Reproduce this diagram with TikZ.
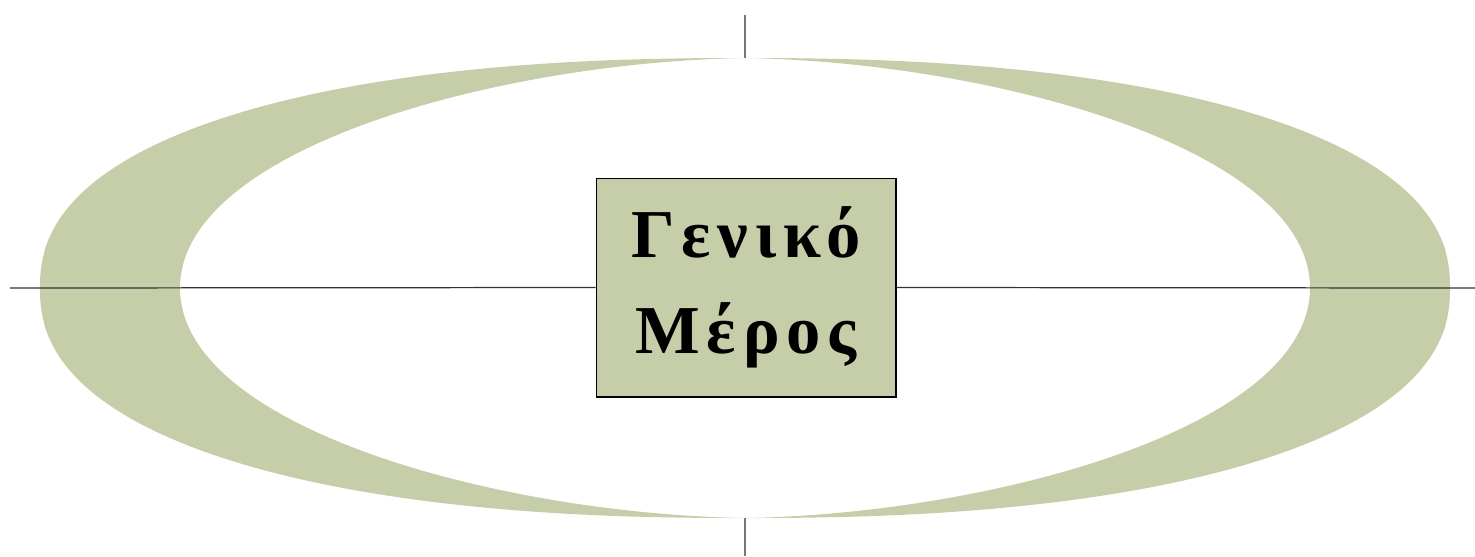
\documentclass[tikz,border=0pt]{standalone}
\usepackage{fontspec}
\setmainfont{Liberation Serif}
\newfontfamily\titlefont[LetterSpace=10]{Liberation Serif}
\definecolor{sageGreen}{HTML}{C5CEA9}
\definecolor{axisGray}{HTML}{777777}
\definecolor{axisDark}{HTML}{333333}
\usetikzlibrary{positioning}

\begin{document}
\begin{tikzpicture}[x=0.02cm, y=-0.02cm,
    titlebox/.style={draw=black, fill=sageGreen, line width=0.6pt,
        minimum width=6cm, minimum height=4.38cm, align=center, inner sep=0pt,
        font=\titlefont\bfseries\fontsize{39}{55}\selectfont}]
  \useasboundingbox (0,0) rectangle (1475,556);

  % Crescent ring: rounded outer oval minus a slimmer inner oval
  \fill[sageGreen, even odd rule]
    plot[domain=0.5:360.5, samples=361]
      ({745+705*sign(cos(\x))*pow(abs(cos(\x)),0.87)},
       {288+230*sign(sin(\x))*pow(abs(sin(\x)),0.87)}) -- cycle
    (745,58) .. controls (500,62) and (180,148) .. (180,288)
      .. controls (180,428) and (500,514) .. (745,518)
      .. controls (990,514) and (1310,428) .. (1310,288)
      .. controls (1310,148) and (990,62) .. (745,58) -- cycle;

  % Axis end points
  \coordinate (west) at (10,288);
  \coordinate (east) at (1475,288);
  \coordinate (north) at (745,15);
  \coordinate (ringtop) at (745,58);
  \coordinate (ringbottom) at (745,518);
  \coordinate (south) at (745,556);

  % Title box
  \node[titlebox] (title) at (746,287.5) {Γενικό\\Μέρος};

  \draw[axisDark, line width=0.7pt] (west) -- (title.west);
  \draw[axisDark, line width=0.7pt] (title.east) -- (east);
  \draw[axisGray, line width=1pt] (north) -- (ringtop);
  \draw[axisGray, line width=1pt] (ringbottom) -- (south);
\end{tikzpicture}
\end{document}
